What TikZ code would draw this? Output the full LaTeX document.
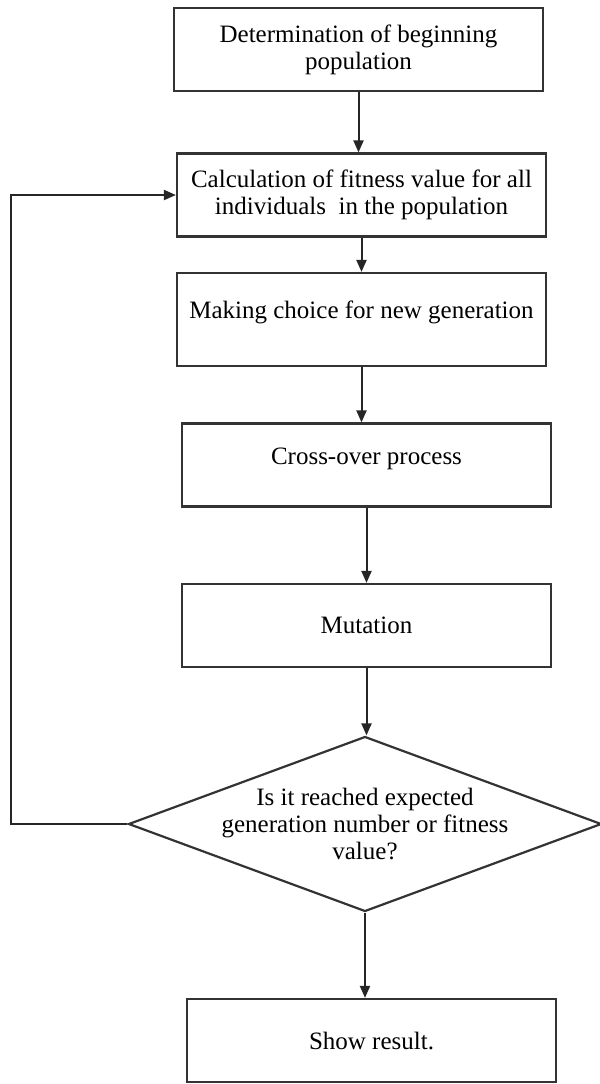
\documentclass[tikz,border=0pt]{standalone}
\usepackage{fontspec}
\setmainfont{Liberation Serif}
\usetikzlibrary{arrows.meta,shapes.geometric}

\begin{document}
\begin{tikzpicture}[x=0.5pt, y=-0.5pt,
    box/.style={draw=black!80, line width=1.1pt, minimum width=184.5pt, minimum height=41.5pt,
        align=center, font=\fontsize{12.5}{13.6}\selectfont},
    test/.style={diamond, draw=black!80, line width=1.1pt, minimum width=236.5pt, minimum height=87.5pt,
        aspect=2.7, inner xsep=0pt, inner ysep=-3pt, align=center, font=\fontsize{12.5}{13.6}\selectfont},
    arr/.style={draw=black!85, line width=1pt, -{Triangle[length=6pt,width=5pt]}}]

    \useasboundingbox (0,0) rectangle (600,1084);

    \node[box] (a) at (358.5, 49.5) {Determination of beginning\\population};
    \node[box] (b) at (361.5, 195) {Calculation of fitness value for all\\individuals \ in the population};
    \node[box, minimum height=46.5pt, text depth=10pt] (c) at (361.5, 319.5) {Making choice for new generation};
    \node[box, text depth=8.5pt] (d) at (366.5, 465) {Cross-over process};
    \node[box] (e) at (366.5, 625.5) {Mutation};
    \node[test] (f) at (365, 824) {Is it reached expected\\generation number or fitness\\value?};
    \node[box] (g) at (371.5, 1040.5) {Show result.};

    \draw[arr] (a.south) -- (a.south |- b.north);
    \draw[arr] (b.south) -- (b.south |- c.north);
    \draw[arr] (c.south) -- (c.south |- d.north);
    \draw[arr] (d.south) -- (d.south |- e.north);
    \draw[arr] (e.south) -- (e.south |- f.north);
    \draw[arr] (f.south) -- (f.south |- g.north);
    \draw[arr] (f.west) -- ++(-116,0) |- (b.west);

\end{tikzpicture}
\end{document}
